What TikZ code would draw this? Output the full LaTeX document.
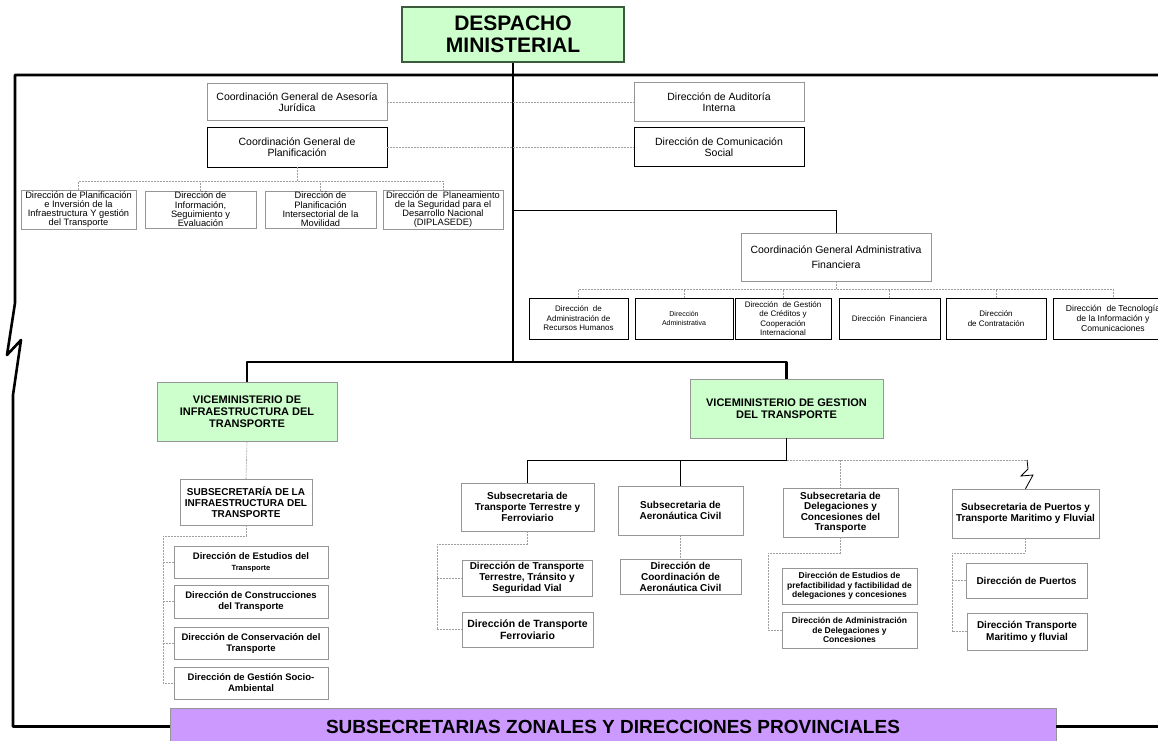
\documentclass[tikz,border=0pt]{standalone}
\usepackage{fontspec}
\setmainfont{Liberation Sans}
\definecolor{mingreen}{RGB}{204,255,204}
\definecolor{zonpurple}{RGB}{204,153,255}
\definecolor{boxedge}{RGB}{150,150,150}
\newcommand\tsz[2]{\fontsize{#1}{#2}\selectfont}
\begin{document}
\begin{tikzpicture}[x=1pt,y=-1pt,
  box/.style={draw=boxedge, line width=0.5pt, fill=white, align=center, inner sep=1pt},
  dbox/.style={box, draw=black, line width=0.9pt},
  vicebox/.style={box, fill=mingreen},
  zonbox/.style={box, fill=zonpurple, draw=boxedge},
  mainline/.style={draw=black, line width=2.6pt, line join=round},
  slink/.style={draw=black, line width=1pt},
  dlink/.style={draw=gray!75, line width=0.6pt, dash pattern=on 2pt off 1pt},
  tplan/.style={font=\tsz{9.3}{9.3}},
  tcoord/.style={font=\tsz{10.5}{11.5}},
  tadm/.style={font=\tsz{8}{9.5}},
  tvice/.style={font=\bfseries\tsz{11}{12}},
  tsub/.style={font=\bfseries\tsz{10}{11}},
  tsmall/.style={font=\bfseries\tsz{8.5}{9.5}}
]
\useasboundingbox (0,0) rectangle (1158,740);
\clip (0,0) rectangle (1158,740);

% ---- head of the ministry ----
\node[vicebox, draw={rgb,255:red,60;green,90;blue,60}, line width=1.2pt,
      minimum width=222pt, minimum height=55pt, font=\bfseries\tsz{21}{22}]
      (desp) at (513,34.5) {DESPACHO\\MINISTERIAL};

% ---- advisory and planning units ----
\node[box, minimum width=180pt, minimum height=37pt, tcoord] (ases) at (297,102)
  {Coordinación General de Asesoría\\Jurídica};
\node[dbox, minimum width=180pt, minimum height=40pt, tcoord] (plan) at (297,147)
  {Coordinación General de\\Planificación};
\node[box, minimum width=115pt, minimum height=37pt, tplan] (pA) at (78.5,209.5)
  {Dirección de Planificación\\e Inversión de la\\Infraestructura Y gestión\\del Transporte};
\node[box, minimum width=111pt, minimum height=37pt, tplan] (pB) at (200.5,209.5)
  {Dirección de\\Información,\\Seguimiento y\\Evaluación};
\node[box, minimum width=111pt, minimum height=37pt, tplan] (pC) at (320.5,209.5)
  {Dirección de\\Planificación\\Intersectorial de la\\Movilidad};
\node[box, minimum width=120pt, minimum height=37pt, tplan] (pD) at (443,209.5)
  {Dirección de~ Planeamiento\\de la Seguridad para el\\Desarrollo Nacional\\(DIPLASEDE)};

\node[box, minimum width=170pt, minimum height=39pt, tcoord] (audit) at (719,102)
  {Dirección de Auditoría\\Interna};
\node[dbox, minimum width=170pt, minimum height=39pt, tcoord] (comun) at (719,147)
  {Dirección de Comunicación\\Social};

% ---- administrative and financial coordination ----
\node[box, minimum width=190pt, minimum height=48pt, font=\tsz{10.5}{15}] (cgaf) at (836,257)
  {Coordinación General Administrativa\\Financiera};
\node[dbox, minimum width=99pt, minimum height=41pt, tadm] (a1) at (578.5,318.5)
  {Dirección~ de\\Administración de\\Recursos Humanos};
\node[dbox, minimum width=98pt, minimum height=41pt, font=\tsz{7}{9}] (a2) at (684,318.5)
  {Dirección\\Administrativa};
\node[dbox, minimum width=96pt, minimum height=41pt, tadm] (a3) at (783,318.5)
  {Dirección~ de Gestión\\de Créditos y\\Cooperación\\Internacional};
\node[dbox, minimum width=101pt, minimum height=41pt, tadm] (a4) at (889.5,318.5)
  {Dirección~ Financiera};
\node[dbox, minimum width=100pt, minimum height=41pt, tadm] (a5) at (996,318.5)
  {Dirección\\de Contratación};
\node[dbox, minimum width=120pt, minimum height=41pt, font=\tsz{8.6}{10}] (a6) at (1113,318.5)
  {Dirección~ de Tecnología\\de la Información y\\Comunicaciones};

% ---- vice-ministries ----
\node[vicebox, minimum width=180pt, minimum height=59pt, tvice] (vmi) at (247,411.5)
  {VICEMINISTERIO DE\\INFRAESTRUCTURA DEL\\TRANSPORTE};
\node[vicebox, minimum width=193pt, minimum height=59pt, tvice] (vmg) at (786.5,408.5)
  {VICEMINISTERIO DE GESTION\\DEL TRANSPORTE};

% ---- infrastructure branch ----
\node[box, minimum width=132pt, minimum height=46pt, tsub] (sinf) at (246,502)
  {SUBSECRETARÍA DE LA\\INFRAESTRUCTURA DEL\\TRANSPORTE};
\node[box, minimum width=154pt, minimum height=32pt, font=\bfseries\tsz{9.5}{11}] (i1) at (251,562)
  {Dirección de Estudios del\\{\tsz{7.5}{9}Transporte}};
\node[box, minimum width=154pt, minimum height=33pt, font=\bfseries\tsz{9.5}{11}] (i2) at (251,601.5)
  {Dirección de Construcciones\\del Transporte};
\node[box, minimum width=154pt, minimum height=32pt, font=\bfseries\tsz{9.5}{11}] (i3) at (251,643)
  {Dirección de Conservación del\\Transporte};
\node[box, minimum width=154pt, minimum height=32pt, font=\bfseries\tsz{9.5}{11}] (i4) at (251,683)
  {Dirección de Gestión Socio-\\Ambiental};

% ---- transport management branch ----
\node[box, minimum width=133pt, minimum height=48pt, tsub] (sterr) at (527.5,507)
  {Subsecretaria de\\Transporte Terrestre y\\Ferroviario};
\node[box, minimum width=125pt, minimum height=49pt, tsub] (saero) at (680.5,510.5)
  {Subsecretaria de\\Aeronáutica Civil};
\node[box, minimum width=115pt, minimum height=49pt, font=\bfseries\tsz{10}{10.5}] (sdel) at (840.5,512.5)
  {Subsecretaria de\\Delegaciones y\\Concesiones del\\Transporte};
\node[box, minimum width=147pt, minimum height=49pt, font=\bfseries\tsz{10}{11.7}] (spue) at (1025.5,513.5)
  {Subsecretaria de Puertos y\\Transporte Maritimo y Fluvial};

\node[box, minimum width=130pt, minimum height=36pt, tsub] (t1) at (527,578)
  {Dirección de Transporte\\Terrestre, Tránsito y\\Seguridad Vial};
\node[box, minimum width=131pt, minimum height=35pt, font=\bfseries\tsz{10.5}{11.5}] (t2) at (527.5,629.5)
  {Dirección de Transporte\\Ferroviario};
\node[box, minimum width=121pt, minimum height=35pt, tsub] (ae1) at (680.5,576.5)
  {Dirección de\\Coordinación de\\Aeronáutica Civil};
\node[box, minimum width=135pt, minimum height=36pt, tsmall] (d1) at (849.5,586)
  {Dirección de Estudios de\\prefactibilidad y factibilidad de\\delegaciones y concesiones};
\node[box, minimum width=135pt, minimum height=36pt, tsmall] (d2) at (849.5,630)
  {Dirección de Administración\\de Delegaciones y\\Concesiones};
\node[box, minimum width=121pt, minimum height=35pt, tsub] (p1) at (1026.5,580.5)
  {Dirección de Puertos};
\node[box, minimum width=120pt, minimum height=37pt, font=\bfseries\tsz{10}{12}] (p2) at (1027,631.5)
  {Dirección Transporte\\Maritimo y fluvial};

% ---- zonal offices ----
\node[zonbox, minimum width=886pt, minimum height=37pt, font=\bfseries\tsz{19}{20}] (zon) at (613,726.5)
  {SUBSECRETARIAS ZONALES Y DIRECCIONES PROVINCIALES};

% ---- main structure lines ----
\coordinate (hub) at (513,362);
\coordinate (ftr) at (1158,75);
\coordinate (fbr) at (1158,726.5);
\draw[mainline] (desp.south) -- (hub);
\draw[mainline] (vmi.north) |- (hub) -| (vmg.north);
\draw[mainline] (ftr) -- (15,75) -- (15,303) -- (7,355) -- (21,340) -- (13,395)
  -- (13,726.5) -- (zon.west);
\draw[mainline] (zon.east) -- (fbr);

% ---- advisory links ----
\draw[dlink] (ases.east) -- (audit.west);
\draw[dlink] (plan.east) -- (comun.west);
\coordinate (pbus) at (297,181);
\draw[dlink] (plan.south) -- (pbus);
\draw[dlink] (pA.north) -- (pA.north |- pbus) -- (pD.north |- pbus) -- (pD.north);
\draw[dlink] (pB.north) -- (pB.north |- pbus);
\draw[dlink] (pC.north) -- (pC.north |- pbus);

% ---- administrative links ----
\coordinate (abr) at (513,210);
\draw[slink] (abr) -| (cgaf.north);
\coordinate (abus) at (836,289);
\draw[dlink] (cgaf.south) -- (abus);
\draw[dlink] (a1.north) -- (a1.north |- abus) -- (a6.north |- abus) -- (a6.north);
\foreach \n in {a2,a3,a4,a5} \draw[dlink] (\n.north) -- (\n.north |- abus);

% ---- infrastructure links ----
\draw[dlink] (vmi.south) -- (sinf.north);
\coordinate (ibus) at (163,536);
\draw[dlink] (sinf.south) |- (ibus) -- (ibus |- i4.west) -- (i4.west);
\foreach \n in {i1,i2,i3} \draw[dlink] (ibus |- \n.west) -- (\n.west);

% ---- transport management links ----
\coordinate (gbus) at (786.5,460);
\coordinate (gend) at (1027,460);
\draw[slink] (vmg.south) -- (gbus);
\draw[slink] (gbus) -| (sterr.north);
\draw[slink] (saero.north) -- (saero.north |- gbus);
\draw[dlink] (gbus) -- (gend);
\draw[dlink] (sdel.north |- gbus) -- (sdel.north);
\draw[black, line width=0.8pt] (gend) -- ++(1,9) -- ++(-7,7) -- ++(12,-1) -- (spue.north);

\coordinate (tbus) at (437,544);
\draw[dlink] (sterr.south) |- (tbus) -- (tbus |- t2.west) -- (t2.west);
\draw[dlink] (tbus |- t1.west) -- (t1.west);
\draw[dlink] (saero.south) -- (ae1.north);
\coordinate (dbus) at (768,553);
\draw[dlink] (sdel.south) |- (dbus) -- (dbus |- d2.west) -- (d2.west);
\coordinate (ubus) at (952,553);
\draw[dlink] (spue.south) |- (ubus) -- (ubus |- p2.west) -- (p2.west);
\draw[dlink] (ubus |- p1.west) -- (p1.west);
\end{tikzpicture}
\end{document}
